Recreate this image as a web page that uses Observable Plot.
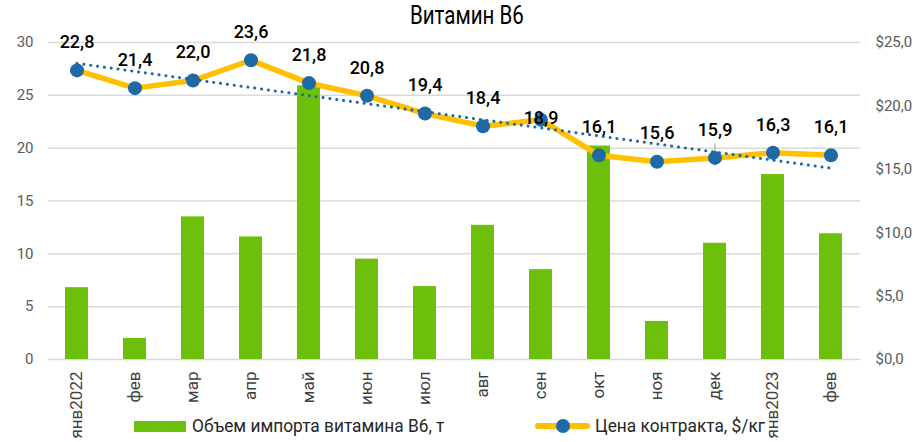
<!DOCTYPE html>
<html><head><meta charset="utf-8">
<script src="https://cdn.jsdelivr.net/npm/d3@7"></script>
<script src="https://cdn.jsdelivr.net/npm/@observablehq/plot@0.6"></script>
<style>
body{margin:0;background:#fff;font-family:Roboto,"Noto Sans",sans-serif;}
#wrap{position:relative;width:913px;height:442px;overflow:hidden;}
#title{position:absolute;left:410px;top:1px;font-size:25px;color:#000;z-index:2;transform:scaleX(0.82);transform-origin:0 0;white-space:nowrap;}
#chart{position:absolute;left:0;top:0;}
#chart svg{overflow:visible;}
.lg{position:absolute;font-size:19px;color:#262626;white-space:nowrap;line-height:20px;z-index:2;transform:scaleX(0.91);transform-origin:0 0;}
.sw{position:absolute;z-index:2;}
</style></head>
<body>
<div id="wrap">
  <div id="chart"></div>
  <div id="title">Витамин В6</div>
  <div class="sw" style="left:134px;top:421px;width:52px;height:11px;background:#6CC00A"></div>
  <div class="lg" style="left:192px;top:416px;">Объем импорта витамина В6, т</div>
  <div class="sw" style="left:535px;top:423px;width:55px;height:6px;border-radius:3px;background:#FFC000"></div>
  <div class="sw" style="left:556px;top:419px;width:14px;height:14px;border-radius:7px;background:#1F69A6"></div>
  <div class="lg" style="left:595px;top:416px;">Цена контракта, $/кг</div>
</div>
<script>
const months = ["янв2022","фев","мар","апр","май","июн","июл","авг","сен","окт","ноя","дек","янв2023","фев"];
const volumes = [6.8, 2.0, 13.5, 11.6, 25.9, 9.5, 6.9, 12.7, 8.5, 20.2, 3.6, 11.0, 17.5, 11.9];
const prices = [22.8, 21.4, 22.0, 23.6, 21.8, 20.8, 19.4, 18.4, 18.9, 16.1, 15.6, 15.9, 16.3, 16.1];
const leftTicks = [0, 5, 10, 15, 20, 25, 30];
const rightTicks = [0, 5, 10, 15, 20, 25];

const k = 30 / 25; // right axis ($0–25) mapped onto left axis (0–30)
const idx = d3.range(months.length);
const fmt = v => v.toFixed(1).replace(".", ",");

// linear trend (least squares) of price
const n = prices.length, xm = d3.mean(idx), ym = d3.mean(prices);
const slope = d3.sum(idx, i => (i - xm) * (prices[i] - ym)) / d3.sum(idx, i => (i - xm) ** 2);
const trend = [0, n - 1].map(i => ({i, v: ym + slope * (i - xm)}));

const blue = "#1F69A6", green = "#6CC00A", yellow = "#FFC000";

const chart = Plot.plot({
  width: 913, height: 442,
  marginLeft: 48, marginRight: 53, marginTop: 42, marginBottom: 83,
  style: {fontFamily: 'Roboto,"Noto Sans",sans-serif', color: "#595959", background: "transparent"},
  x: {type: "band", domain: idx, paddingInner: 0.6, paddingOuter: 0.3},
  y: {domain: [0, 30]},
  marks: [
    Plot.ruleY(leftTicks, {stroke: "#d9d9d9", strokeWidth: 1.5}),
    Plot.axisY({ticks: leftTicks, tickSize: 0, tickPadding: 15, fontSize: 15, label: null}),
    Plot.axisY({anchor: "right", ticks: rightTicks.map(t => t * k), tickFormat: d => "$" + fmt(d / k), tickSize: 0, tickPadding: 15, fontSize: 15, label: null}),
    Plot.axisX({tickRotate: -90, tickSize: 0, tickPadding: 12, tickFormat: i => months[i], fontSize: 17, label: null, fill: "#404040"}),
    Plot.barY(idx, {x: i => i, y: i => volumes[i], fill: green}),
    Plot.line(idx, {x: i => i, y: i => prices[i] * k, stroke: yellow, strokeWidth: 5.5, strokeLinejoin: "round"}),
    Plot.vector([11], {x: i => i, y: i => prices[i] * k, length: 14, anchor: "start", stroke: "#a6a6a6", strokeWidth: 1.2,
      shape: {draw(ctx, l) { ctx.moveTo(0, 0); ctx.lineTo(0, -l); }}}),
    Plot.dot(idx, {x: i => i, y: i => prices[i] * k, r: 7, fill: blue}),
    Plot.line(trend, {x: "i", y: d => d.v * k, stroke: blue, strokeWidth: 3, strokeDasharray: "0.1 6.8", strokeLinecap: "round"}),
    Plot.text(idx.filter(i => i !== 8), {x: i => i, y: i => prices[i] * k, text: i => fmt(prices[i]), dy: -28, fontSize: 18, fontWeight: 500, fill: "#000"}),
    Plot.text([8], {x: i => i, y: i => prices[i] * k, text: i => fmt(prices[i]), dy: -2, fontSize: 18, fontWeight: 500, fill: "#000"})
  ]
});
document.getElementById("chart").appendChild(chart);
</script>
</body></html>
